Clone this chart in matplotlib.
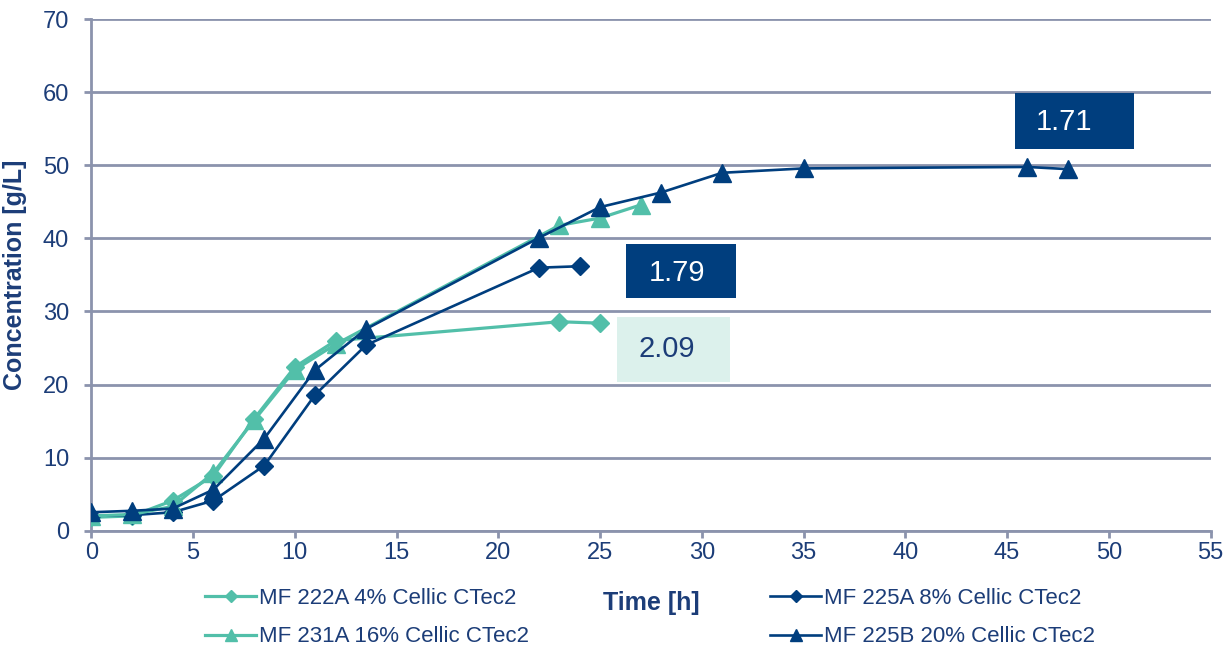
import matplotlib.pyplot as plt
from matplotlib.patches import Rectangle

plt.rcParams['font.family'] = ['Liberation Sans', 'DejaVu Sans']

# data
t_222a = [0, 2, 4, 6, 8, 10, 12, 23, 25]
c_222a = [1.8, 2.0, 4.1, 7.5, 15.3, 22.4, 26.0, 28.6, 28.4]

t_225a = [0, 2, 4, 6, 8.5, 11, 13.5, 22, 24]
c_225a = [2.0, 2.1, 2.5, 4.1, 8.9, 18.6, 25.4, 36.0, 36.2]

t_231a = [0, 2, 4, 6, 8, 10, 12, 23, 25, 27]
c_231a = [2.0, 2.2, 3.3, 7.9, 15.1, 22.0, 25.5, 41.8, 42.8, 44.6]

t_225b = [0, 2, 4, 6, 8.5, 11, 13.5, 22, 25, 28, 31, 35, 46, 48]
c_225b = [2.5, 2.7, 3.0, 5.6, 12.6, 22.0, 27.6, 40.1, 44.3, 46.3, 49.0, 49.6, 49.8, 49.5]

labels = ['MF 222A 4% Cellic CTec2', 'MF 225A 8% Cellic CTec2',
          'MF 231A 16% Cellic CTec2', 'MF 225B 20% Cellic CTec2']

# yield boxes: text, x0, x1, y0, y1, text x, text y
boxes = [
    ('1.71', 45.4, 51.25, 52.3, 59.9, 47.8, 55.9),
    ('1.79', 26.25, 31.7, 31.9, 39.2, 28.8, 35.3),
    ('2.09', 25.85, 31.4, 20.4, 29.2, 28.3, 24.8),
]

teal = '#52bfa9'
navy = '#003e7e'
txt = '#1c3d78'
grid = '#8b93ad'

fig = plt.figure(figsize=(12.29, 6.56), dpi=100)
ax = fig.add_axes([0.0743, 0.1913, 0.9107, 0.779])

l1, = ax.plot(t_222a, c_222a, color=teal, lw=2.3, marker='D', ms=9.5, zorder=3)
l2, = ax.plot(t_225a, c_225a, color=navy, lw=1.9, marker='D', ms=9.5, zorder=4)
l3, = ax.plot(t_231a, c_231a, color=teal, lw=2.3, marker='^', ms=13, zorder=5)
l4, = ax.plot(t_225b, c_225b, color=navy, lw=1.9, marker='^', ms=13, zorder=6)

box_colors = [(navy, 'white'), (navy, 'white'), ('#dcf1ec', txt)]
for (s, x0, x1, y0, y1, tx, ty), (fc, tc) in zip(boxes, box_colors):
    ax.add_patch(Rectangle((x0, y0), x1 - x0, y1 - y0, facecolor=fc,
                           edgecolor='none', zorder=7))
    ax.text(tx, ty, s, color=tc, fontsize=21, ha='center', va='center', zorder=8)

ax.set_xlim(0, 55)
ax.set_ylim(0, 70)
ax.set_xticks(range(0, 56, 5))
ax.set_yticks(range(0, 71, 10))
ax.grid(axis='y', color=grid, lw=2)
ax.set_axisbelow(True)
for side in ['top', 'right']:
    ax.spines[side].set_visible(False)
for side in ['left', 'bottom']:
    ax.spines[side].set_color(grid)
    ax.spines[side].set_linewidth(2)
ax.tick_params(axis='y', colors=grid, labelcolor=txt, labelsize=17,
               length=5, width=2, pad=11)
ax.tick_params(axis='x', colors=grid, labelcolor=txt, labelsize=17,
               length=5, width=2, pad=3)

ax.set_ylabel('Concentration [g/L]', fontsize=18, fontweight='bold', color=txt)
ax.yaxis.set_label_coords(-0.068, 0.5)
ax.yaxis.label.set_va('center')
ax.set_xlabel('Time [h]', fontsize=18, fontweight='bold', color=txt)
ax.xaxis.set_label_coords(0.5, -0.142)
ax.xaxis.label.set_va('center')

leg_kw = dict(frameon=False, loc='upper left', fontsize=16, handlelength=2.3,
              handletextpad=0.15, borderpad=0, borderaxespad=0,
              labelspacing=0.78, markerscale=0.65, labelcolor=txt)
fig.legend([l1, l3], [labels[0], labels[2]],
           bbox_to_anchor=(205 / 1229, 1 - 588 / 656), **leg_kw)
fig.legend([l2, l4], [labels[1], labels[3]],
           bbox_to_anchor=(770 / 1229, 1 - 588 / 656), **leg_kw)

fig.savefig('out.png', dpi=100)
